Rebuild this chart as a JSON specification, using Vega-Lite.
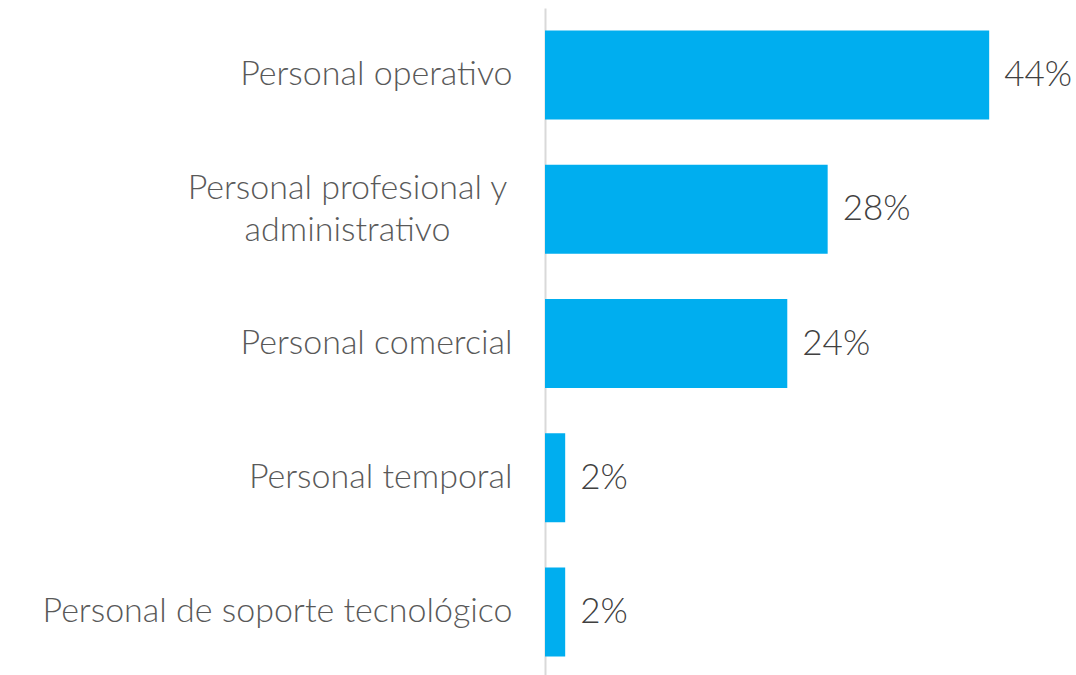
{
  "$schema": "https://vega.github.io/schema/vega-lite/v6.json",
  "width": 531,
  "height": 671,
  "autosize": {"type": "none"},
  "padding": {"left": 545, "top": 8, "right": 0, "bottom": 0},
  "background": "white",
  "config": {"view": {"stroke": null}},
  "data": {
    "values": [
      {"categoria": "Personal operativo", "valor": 44, "etiqueta": "44%"},
      {"categoria": "Personal profesional y administrativo", "valor": 28, "etiqueta": "28%"},
      {"categoria": "Personal comercial", "valor": 24, "etiqueta": "24%"},
      {"categoria": "Personal temporal", "valor": 2, "etiqueta": "2%"},
      {"categoria": "Personal de soporte tecnológico", "valor": 2, "etiqueta": "2%"}
    ]
  },
  "encoding": {
    "y": {
      "field": "categoria",
      "type": "nominal",
      "sort": null,
      "scale": {"paddingInner": 0.337, "paddingOuter": 0.167},
      "axis": {
        "title": null,
        "ticks": false,
        "domainColor": "#d9d9d9",
        "domainWidth": 2,
        "labelFont": "Lato",
        "labelFontWeight": 300,
        "labelFontSize": 34,
        "labelColor": "#595959",
        "labelLimit": 600,
        "labelLineHeight": 42,
        "labelPadding": {"condition": {"test": "datum.value == 'Personal profesional y administrativo'", "value": 198}, "value": 33},
        "labelAlign": {"condition": {"test": "datum.value == 'Personal profesional y administrativo'", "value": "center"}, "value": "right"},
        "labelOffset": {"condition": {"test": "datum.value == 'Personal profesional y administrativo'", "value": -20}, "value": 0},
        "labelExpr": "datum.value == 'Personal profesional y administrativo' ? ['Personal profesional y', 'administrativo'] : datum.value"
      }
    },
    "x": {
      "field": "valor",
      "type": "quantitative",
      "scale": {"domain": [0, 52.6]},
      "axis": null
    }
  },
  "layer": [
    {"mark": {"type": "bar", "color": "#00AEEF"}},
    {
      "mark": {"type": "text", "align": "left", "baseline": "middle", "dx": 15, "font": "Lato", "fontWeight": 300, "fontSize": 35, "color": "#404040"},
      "encoding": {"text": {"field": "etiqueta"}}
    }
  ]
}
